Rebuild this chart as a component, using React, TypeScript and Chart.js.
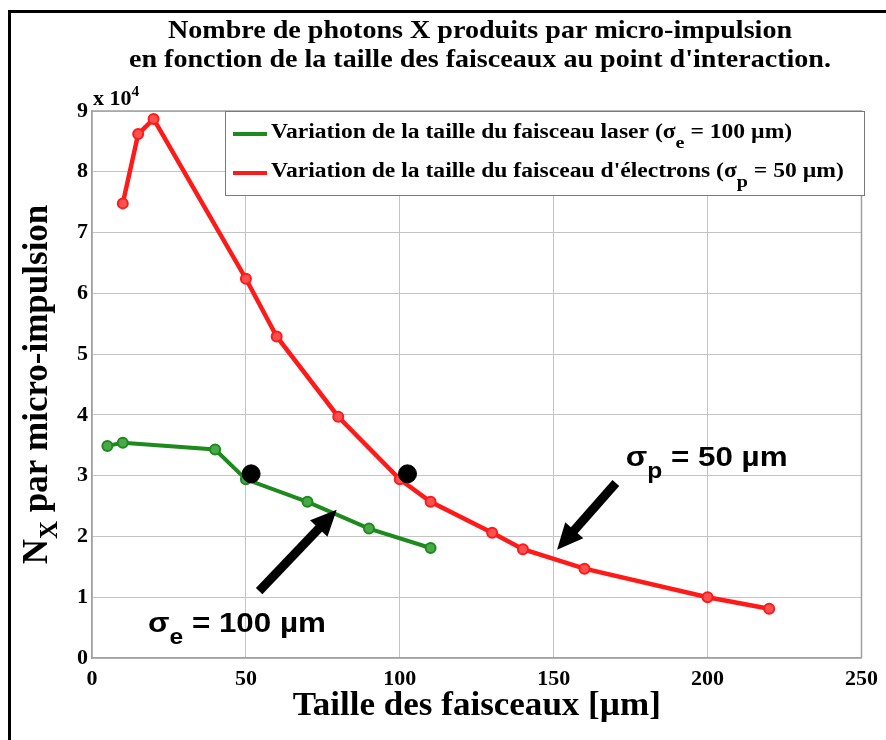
import { useEffect, useRef } from 'react';
import { Chart, registerables } from 'chart.js';

Chart.register(...registerables);

// ---------- data ----------
const titleLines = [
  'Nombre de photons X produits par micro-impulsion',
  "en fonction de la taille des faisceaux au point d'interaction.",
];
const xAxisTitle = 'Taille des faisceaux [µm]';
const yAxisTitle = ['N', 'X', ' par micro-impulsion'];
const yExponent = ['x 10', '4'];
const xTicks = [0, 50, 100, 150, 200, 250];
const yTicks = [0, 1, 2, 3, 4, 5, 6, 7, 8, 9];
const yScaleFactor = 10000;

const laserSizes = [5, 10, 40, 50, 70, 90, 110];
const laserPhotons = [34900, 35400, 34300, 29400, 25700, 21300, 18100];

const electronSizes = [10, 15, 20, 50, 60, 80, 100, 110, 130, 140, 160, 200, 220];
const electronPhotons = [74800, 86200, 88700, 62400, 52900, 39700, 29400, 25700, 20600, 17900, 14700, 10000, 8100];

const refSizes = [51.7, 102.5];
const refPhotons = [30300, 30300];

const legendLabels = [
  ['Variation de la taille du faisceau laser (σ', 'e', ' = 100 µm)'],
  ["Variation de la taille du faisceau d'électrons (σ", 'p', ' = 50 µm)'],
];

const noteLabels = [
  ['σ', 'e', ' = 100 µm'],
  ['σ', 'p', ' = 50 µm'],
];
const noteX = [18.2, 173.4];
const noteY = [4300, 31600];

const arrowFromX = [54.3, 170.2];
const arrowFromY = [11000, 28800];
const arrowToX = [79.5, 151.1];
const arrowToY = [24400, 17800];

// ---------- styles ----------
const SERIF = '"Liberation Serif", "Times New Roman", serif';
const SANS = '"Liberation Sans", Arial, sans-serif';
const GREEN = '#1c8a1c';
const RED = '#ff1a1a';

type Part = { text: string; font: string; dy: number };

function partsWidth(ctx: CanvasRenderingContext2D, parts: Part[]) {
  let w = 0;
  for (const p of parts) {
    ctx.font = p.font;
    w += ctx.measureText(p.text).width;
  }
  return w;
}

function drawParts(
  ctx: CanvasRenderingContext2D,
  parts: Part[],
  x: number,
  y: number,
  align: 'left' | 'center',
  sx = 1
) {
  const w = partsWidth(ctx, parts) * sx;
  const startX = align === 'center' ? x - w / 2 : x;
  ctx.save();
  ctx.translate(startX, y);
  ctx.scale(sx, 1);
  ctx.textAlign = 'left';
  ctx.textBaseline = 'alphabetic';
  let cx = 0;
  for (const p of parts) {
    ctx.font = p.font;
    ctx.fillText(p.text, cx, p.dy);
    cx += ctx.measureText(p.text).width;
  }
  ctx.restore();
}

function drawArrow(ctx: CanvasRenderingContext2D, x1: number, y1: number, x2: number, y2: number) {
  const ang = Math.atan2(y2 - y1, x2 - x1);
  const headLen = 26;
  const headHalf = 12;
  const bx = x2 - headLen * Math.cos(ang);
  const by = y2 - headLen * Math.sin(ang);
  ctx.save();
  ctx.strokeStyle = '#000';
  ctx.fillStyle = '#000';
  ctx.lineWidth = 9;
  ctx.lineCap = 'butt';
  ctx.beginPath();
  ctx.moveTo(x1, y1);
  ctx.lineTo(bx + 2 * Math.cos(ang), by + 2 * Math.sin(ang));
  ctx.stroke();
  ctx.beginPath();
  ctx.moveTo(x2, y2);
  ctx.lineTo(bx + headHalf * Math.sin(ang), by - headHalf * Math.cos(ang));
  ctx.lineTo(bx - headHalf * Math.sin(ang), by + headHalf * Math.cos(ang));
  ctx.closePath();
  ctx.fill();
  ctx.restore();
}

const decorPlugin = {
  id: 'decor',
  afterDraw(chart: any) {
    const ctx: CanvasRenderingContext2D = chart.ctx;
    const area = chart.chartArea;
    const xs = chart.scales.x;
    const ys = chart.scales.y;
    ctx.save();

    // outer frame (top and left)
    ctx.strokeStyle = '#000';
    ctx.lineWidth = 3;
    ctx.beginPath();
    ctx.moveTo(9.5, 760);
    ctx.lineTo(9.5, 11.5);
    ctx.lineTo(900, 11.5);
    ctx.stroke();

    // plot box top & right
    ctx.strokeStyle = '#a0a0a0';
    ctx.lineWidth = 1.5;
    ctx.beginPath();
    ctx.moveTo(area.left, area.top);
    ctx.lineTo(area.right, area.top);
    ctx.lineTo(area.right, area.bottom);
    ctx.stroke();

    ctx.fillStyle = '#000';
    // title
    const tf = `bold 26px ${SERIF}`;
    drawParts(ctx, [{ text: titleLines[0], font: tf, dy: 0 }], 480, 38, 'center', 1.08);
    drawParts(ctx, [{ text: titleLines[1], font: tf, dy: 0 }], 480, 67, 'center', 1.08);

    // exponent
    drawParts(ctx, [
      { text: yExponent[0], font: `bold 20px ${SERIF}`, dy: 0 },
      { text: yExponent[1], font: `bold 14px ${SERIF}`, dy: -9 },
    ], area.left + 1, area.top - 6, 'left', 1.1);

    // x axis title
    drawParts(ctx, [{ text: xAxisTitle, font: `bold 34px ${SERIF}`, dy: 0 }],
      (area.left + area.right) / 2, 715, 'center', 1.03);

    // y axis title
    ctx.save();
    ctx.translate(47, (area.top + area.bottom) / 2);
    ctx.rotate(-Math.PI / 2);
    drawParts(ctx, [
      { text: yAxisTitle[0], font: `bold 35px ${SERIF}`, dy: 0 },
      { text: yAxisTitle[1], font: `bold 25px ${SERIF}`, dy: 10 },
      { text: yAxisTitle[2], font: `bold 35px ${SERIF}`, dy: 0 },
    ], 0, 0, 'center');
    ctx.restore();

    // legend
    const lx = 225, ly = area.top, lw = 639, lh = 84;
    ctx.fillStyle = '#fff';
    ctx.fillRect(lx, ly, lw, lh);
    ctx.strokeStyle = '#7a7a7a';
    ctx.lineWidth = 1;
    ctx.strokeRect(lx + 0.5, ly + 0.5, lw, lh);
    const colors = [GREEN, RED];
    const rowsY = [134, 173];
    legendLabels.forEach((lab, i) => {
      ctx.strokeStyle = colors[i];
      ctx.lineWidth = 4;
      ctx.beginPath();
      ctx.moveTo(233, rowsY[i]);
      ctx.lineTo(267, rowsY[i]);
      ctx.stroke();
      ctx.fillStyle = '#000';
      drawParts(ctx, [
        { text: lab[0], font: `bold 20px ${SERIF}`, dy: 0 },
        { text: lab[1], font: `bold 17px ${SERIF}`, dy: 10 },
        { text: lab[2], font: `bold 20px ${SERIF}`, dy: 0 },
      ], 271, rowsY[i] + 4, 'left', 1.18);
    });

    // arrows
    for (let i = 0; i < arrowFromX.length; i++) {
      drawArrow(
        ctx,
        xs.getPixelForValue(arrowFromX[i]),
        ys.getPixelForValue(arrowFromY[i]),
        xs.getPixelForValue(arrowToX[i]),
        ys.getPixelForValue(arrowToY[i])
      );
    }

    // notes
    ctx.fillStyle = '#000';
    noteLabels.forEach((lab, i) => {
      drawParts(ctx, [
        { text: lab[0], font: `bold 28px ${SANS}`, dy: 0 },
        { text: lab[1], font: `bold 22px ${SANS}`, dy: 12 },
        { text: lab[2], font: `bold 28px ${SANS}`, dy: 0 },
      ], xs.getPixelForValue(noteX[i]), ys.getPixelForValue(noteY[i]), 'left', 1.12);
    });

    ctx.restore();
  },
};

export default function App() {
  const ref = useRef<HTMLCanvasElement>(null);

  useEffect(() => {
    document.body.style.margin = '0';
    const canvas = ref.current!;
    const chart = new Chart(canvas, {
      type: 'scatter',
      data: {
        datasets: [
          {
            label: 'ref',
            data: refSizes.map((x, i) => ({ x, y: refPhotons[i] })),
            showLine: false,
            pointRadius: 9,
            pointBackgroundColor: '#000',
            pointBorderColor: '#000',
            order: 0,
          },
          {
            label: legendLabels[0].join(''),
            data: laserSizes.map((x, i) => ({ x, y: laserPhotons[i] })),
            showLine: true,
            borderColor: GREEN,
            borderWidth: 4,
            pointRadius: 5,
            pointBorderWidth: 2,
            pointBackgroundColor: '#4aa84a',
            pointBorderColor: GREEN,
            order: 2,
          },
          {
            label: legendLabels[1].join(''),
            data: electronSizes.map((x, i) => ({ x, y: electronPhotons[i] })),
            showLine: true,
            borderColor: RED,
            borderWidth: 4.5,
            pointRadius: 5,
            pointBorderWidth: 2,
            pointBackgroundColor: '#ff5050',
            pointBorderColor: RED,
            order: 1,
          },
        ],
      },
      options: {
        responsive: false,
        animation: false,
        layout: { padding: { left: 0, top: 111, right: 19, bottom: 0 } },
        plugins: {
          legend: { display: false },
          title: { display: false },
          tooltip: { enabled: false },
        },
        scales: {
          x: {
            type: 'linear',
            min: 0,
            max: 250,
            afterFit: (s: any) => { s.height = 82; },
            afterBuildTicks: (s: any) => { s.ticks = xTicks.map((v) => ({ value: v })); },
            grid: { color: '#c4c4c4', lineWidth: 1, drawTicks: false },
            border: { color: '#a0a0a0', width: 1.5 },
            ticks: {
              color: '#000',
              padding: 8,
              maxRotation: 0,
              font: { family: SERIF, weight: 'bold', size: 22 },
            },
          },
          y: {
            type: 'linear',
            min: 0,
            max: 9 * yScaleFactor,
            afterFit: (s: any) => { s.width = 92; },
            afterBuildTicks: (s: any) => { s.ticks = yTicks.map((v) => ({ value: v * yScaleFactor })); },
            grid: { color: '#c4c4c4', lineWidth: 1, drawTicks: false },
            border: { color: '#a0a0a0', width: 1.5 },
            ticks: {
              color: '#000',
              padding: 4,
              font: { family: SERIF, weight: 'bold', size: 22 },
              callback: (v: any) => String(Number(v) / yScaleFactor),
            },
          },
        },
      },
      plugins: [decorPlugin],
    } as any);
    return () => chart.destroy();
  }, []);

  return (
    <div style={{ width: 886, height: 740 }}>
      <canvas ref={ref} width={886} height={740} style={{ display: 'block', width: 886, height: 740 }} />
    </div>
  );
}
